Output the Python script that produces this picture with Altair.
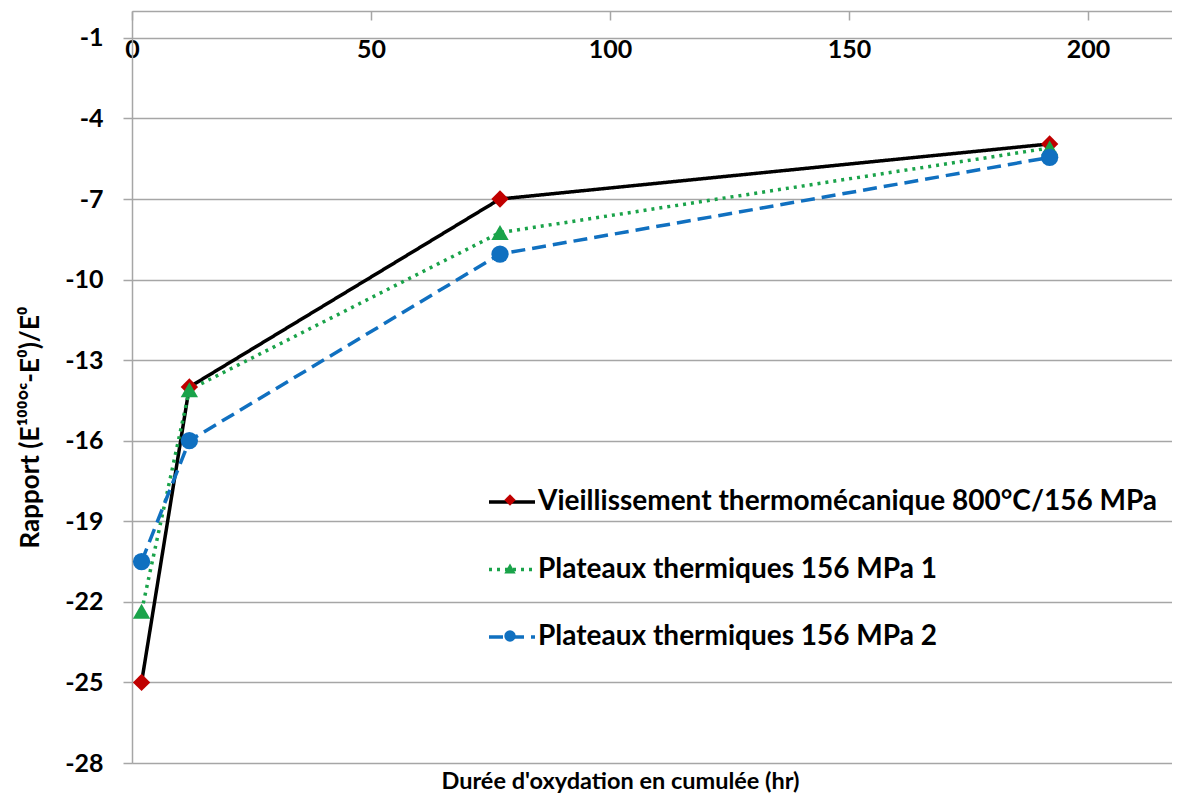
import altair as alt
import pandas as pd

# ---- data ----
hours = [2, 12, 77, 192]
serie_vieillissement = [-25.0, -14.0, -7.0, -4.95]
serie_plateaux_1 = [-22.35, -14.1, -8.25, -5.1]
serie_plateaux_2 = [-20.5, -16.0, -9.05, -5.45]

series_names = [
    "Vieillissement thermomécanique 800°C/156 MPa",
    "Plateaux thermiques 156 MPa 1",
    "Plateaux thermiques 156 MPa 2",
]
series_ids = [1, 2, 3]
line_colors = ["#000000", "#1AA34A", "#1070C0"]
marker_colors = ["#C00000", "#1AA34A", "#1070C0"]
marker_shapes = ["diamond", "triangle-up", "circle"]
line_dashes = [[1, 0], [3, 5], [14, 7]]

x_ticks = [0, 50, 100, 150, 200]
y_ticks = [-28, -25, -22, -19, -16, -13, -10, -7, -4, -1]

x_title = "Durée d'oxydation en cumulée (hr)"
y_title = "Rapport (E¹⁰⁰°ᶜ-E⁰)/E⁰"

rows = []
for sid, name, vals in zip(series_ids, series_names,
                           [serie_vieillissement, serie_plateaux_1, serie_plateaux_2]):
    for h, v in zip(hours, vals):
        rows.append({"hours": h, "value": v, "series": name, "sid": sid})
df = pd.DataFrame(rows)

W, H = 1040, 752
FONT = "Lato"
GRID = "#A6A6A6"
HYPHEN = "replace(datum.label, '\u2212', '-')"

x_enc = alt.X(
    "hours:Q",
    scale=alt.Scale(domain=[0, 217.6], nice=False, zero=False),
    axis=alt.Axis(
        orient="bottom", offset=-H, values=x_ticks, grid=False,
        tickSize=9, tickColor=GRID, tickWidth=1.5,
        domainColor=GRID, domainWidth=1.5, labelFlush=False,
        labelFont=FONT, labelFontSize=25, labelFontWeight="bold", labelColor="#000",
        labelPadding=17,
        title=x_title, titleFont=FONT, titleFontSize=23.5, titleFontWeight="bold",
        titleColor="#000", titleX=488, titleY=770, titleBaseline="middle",
    ),
)
y_enc = alt.Y(
    "value:Q",
    scale=alt.Scale(domain=[-28, 0], nice=False, zero=False),
    axis=alt.Axis(
        values=y_ticks, grid=True, gridColor=GRID, gridWidth=1.5,
        tickSize=9, tickColor=GRID, tickWidth=1.5,
        domainColor=GRID, domainWidth=1.5, labelExpr=HYPHEN,
        labelFont=FONT, labelFontSize=25, labelFontWeight="bold", labelColor="#000",
        labelPadding=20,
        title=y_title, titleFont=FONT, titleFontSize=26, titleFontWeight="bold",
        titleColor="#000", titleX=-102, titleY=416, titleBaseline="middle",
        titleAlign="center",
    ),
)

line_legend = alt.Legend(
    title=None, orient="none", legendX=355, legendY=466, padding=0,
    rowPadding=28.5, symbolType="stroke", symbolSize=2116, symbolStrokeWidth=3.5,
    labelFont=FONT, labelFontSize=28, labelFontWeight="bold", labelColor="#000",
    labelOffset=1, labelLimit=900,
)
point_legend = alt.Legend(
    title=None, orient="none", legendX=372, legendY=483, padding=0,
    rowPadding=56.5, symbolSize=130, symbolStrokeWidth=0,
    labelExpr="''", labelOffset=0,
)

lines = alt.Chart(df).mark_line(strokeWidth=3.5).encode(
    x=x_enc,
    y=y_enc,
    stroke=alt.Stroke("series:N",
                      scale=alt.Scale(domain=series_names, range=line_colors),
                      legend=line_legend),
    strokeDash=alt.StrokeDash("series:N",
                              scale=alt.Scale(domain=series_names, range=line_dashes),
                              legend=line_legend),
)

points = alt.Chart(df).mark_point(filled=True, opacity=1, size=300).encode(
    x="hours:Q",
    y="value:Q",
    fill=alt.Fill("sid:N", scale=alt.Scale(domain=series_ids, range=marker_colors),
                  legend=point_legend),
    shape=alt.Shape("sid:N", scale=alt.Scale(domain=series_ids, range=marker_shapes),
                    legend=point_legend),
)

chart = (
    alt.layer(lines, points)
    .properties(
        width=W, height=H,
        autosize=alt.AutoSizeParams(type="none"),
        padding={"left": 124, "top": 3, "right": 0, "bottom": 34},
    )
    .configure_view(strokeOpacity=0)
    .configure(background="white")
)

chart.save("out.html", embed_options={"renderer": "svg", "actions": False})
